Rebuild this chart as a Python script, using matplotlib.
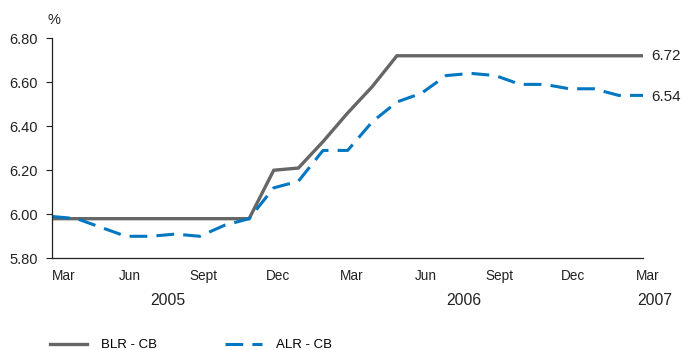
import matplotlib
matplotlib.use("Agg")
import matplotlib.pyplot as plt
import matplotlib.transforms as mtransforms

plt.rcParams['font.family'] = ['Liberation Sans', 'DejaVu Sans']

# Monthly rates, Mar 2005 .. Mar 2007
months = ['Mar', 'Apr', 'May', 'Jun', 'Jul', 'Aug', 'Sept', 'Oct', 'Nov', 'Dec',
          'Jan', 'Feb', 'Mar', 'Apr', 'May', 'Jun', 'Jul', 'Aug', 'Sept', 'Oct',
          'Nov', 'Dec', 'Jan', 'Feb', 'Mar']
blr = [5.98, 5.98, 5.98, 5.98, 5.98, 5.98, 5.98, 5.98, 5.98, 6.20,
       6.21, 6.33, 6.46, 6.58, 6.72, 6.72, 6.72, 6.72, 6.72, 6.72,
       6.72, 6.72, 6.72, 6.72, 6.72]
alr = [5.99, 5.98, 5.94, 5.90, 5.90, 5.91, 5.90, 5.95, 5.98, 6.12,
       6.15, 6.29, 6.29, 6.42, 6.51, 6.55, 6.63, 6.64, 6.63, 6.59,
       6.59, 6.57, 6.57, 6.54, 6.54]
years = ['2005', '2006', '2007']
year_pos = [4.7, 16.7, 24.45]
y_ticks = [5.80, 6.00, 6.20, 6.40, 6.60, 6.80]

grey = '#666666'
blue = '#0077C0'
dark = '#222222'

fig = plt.figure(figsize=(6.85, 3.5), dpi=100)
ax = fig.add_axes([0.076, 0.262, 0.863, 0.629])

x = list(range(len(months)))
ax.plot(x, blr, color=grey, linewidth=2.4, solid_joinstyle='miter',
        label='BLR - CB')
ax.plot(x, alr, color=blue, linewidth=2.2, dashes=(5.8, 3.0),
        label='ALR - CB')

ax.set_xlim(0, len(months) - 1)
ax.set_ylim(5.80, 6.80)
ax.set_yticks(y_ticks)
ax.set_yticklabels([f'{v:.2f}' for v in y_ticks], fontsize=10.5)
ax.tick_params(axis='y', direction='out', length=4, width=0.8, pad=6,
               colors=dark, labelcolor=dark)

tick_idx = list(range(0, len(months), 3))
ax.set_xticks(tick_idx)
ax.set_xticklabels([months[i] for i in tick_idx], fontsize=9.8)
ax.tick_params(axis='x', length=0, pad=8, labelcolor=dark)
for i, lab in enumerate(ax.get_xticklabels()):
    dx = 12 if i == 0 else 4
    lab.set_transform(lab.get_transform() +
                      mtransforms.ScaledTranslation(dx / 100, 0, fig.dpi_scale_trans))

for s in ['top', 'right']:
    ax.spines[s].set_visible(False)
for s in ['left', 'bottom']:
    ax.spines[s].set_color(dark)
    ax.spines[s].set_linewidth(0.9)

# year labels under the month labels
for yr, xp in zip(years, year_pos):
    ax.text(xp, -0.193, yr, transform=ax.get_xaxis_transform(),
            ha='center', va='center', fontsize=11.3, color=dark)

# end-of-series values
ax.annotate(f'{blr[-1]:.2f}', (x[-1], blr[-1]), xytext=(6, 0),
            textcoords='offset points', va='center', fontsize=11, color=dark)
ax.annotate(f'{alr[-1]:.2f}', (x[-1], alr[-1]), xytext=(6, -1),
            textcoords='offset points', va='center', fontsize=11, color=dark)

fig.text(54 / 685, 1 - 20 / 350, '%', ha='center', va='center', fontsize=10.5,
         color=dark)

fig.legend(loc='center left', bbox_to_anchor=(50 / 685, 5 / 350), ncol=2,
           frameon=False, borderpad=0, borderaxespad=0, fontsize=9.5,
           handlelength=2.8, handletextpad=1.05, columnspacing=5.2)

fig.savefig('out.png', dpi=100)
